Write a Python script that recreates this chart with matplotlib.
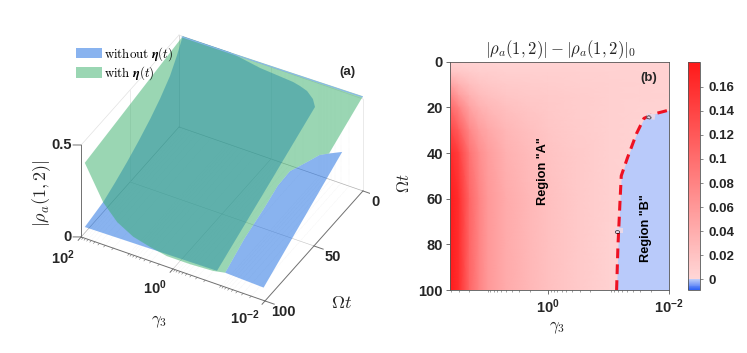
import numpy as np
import matplotlib
matplotlib.use("Agg")
import matplotlib.pyplot as plt
from matplotlib.colors import LinearSegmentedColormap, Normalize
from matplotlib.patches import Patch
from mpl_toolkits.mplot3d.art3d import Poly3DCollection

plt.rcParams["font.family"] = ["Liberation Sans", "DejaVu Sans"]
plt.rcParams["font.weight"] = "bold"
plt.rcParams["mathtext.fontset"] = "cm"

W, H = 747, 353
TEXT = "#262626"
BLUE = "#1569e1"
GREEN = "#37af69"

# panel (a), edges of the two sheets: log10(gamma), t, value
top_lg = [1.92, 0.9, -2.0]
top_t = [0, 0, 0]
top_z = [0.5, 0.503, 0.515]

# zero contour, shared with panel (b)
zero_lg = [-1.133, -1.155, -1.188, -1.21, -1.31, -1.464, -1.586, -1.751, -2.0]
zero_t = [100, 81, 62, 50, 42.3, 31.4, 24.8, 22.9, 21.2]
zero_z = [0.078, 0.155, 0.213, 0.258, 0.30, 0.30, 0.308, 0.319, 0.339]

green_end_lg = [-0.87, -0.37, 0.13, 0.5, 0.868, 1.216, 1.52, 1.92]
green_end_z = [0.065, 0.058, 0.058, 0.076, 0.10, 0.149, 0.23, 0.41]
green_far_t = [50]
green_far_z = [0.455]

blue_far_t = [100, 81, 69, 57, 45, 33, 23, 13, 6]
blue_far_z = [0.061, 0.085, 0.118, 0.156, 0.20, 0.25, 0.30, 0.362, 0.43]
blue_end_z = 0.07

# right hand limit of the overlap
overlap_lg = [0.216, -0.32, -0.544, -0.717, -0.892, -1.083, -1.213, -1.064, -0.956]
overlap_t = [1, 2, 3, 4, 5, 8, 12, 55, 100]
overlap_z = [0.482, 0.48, 0.484, 0.483, 0.477, 0.468, 0.46, 0.258, 0.073]

gamma_major = [100, 1, 0.01]
t_major = [0, 50, 100]

# panel (b)
gamma_grid = [42, 30, 20, 14, 10, 5, 2, 1, 0.3, 0.1, 0.03, 0.01]
t_grid = [0, 5, 10, 15, 20, 30, 40, 60, 80, 100]
diff_table = [
    [.004, .004, .004, .004, .004, .004, .004, .004, .004, .004, .004, .004],
    [.020, .016, .012, .010, .009, .008, .008, .008, .007, .006, .006, .006],
    [.050, .035, .024, .018, .015, .012, .011, .010, .008, .007, .006, .006],
    [.080, .055, .036, .027, .022, .017, .014, .012, .009, .007, .006, .005],
    [.105, .080, .050, .037, .030, .022, .017, .014, .010, .007, .005, .004],
    [.140, .115, .075, .055, .045, .031, .022, .017, .011, .007, .004, .003],
    [.165, .145, .095, .070, .055, .037, .026, .020, .012, .007, .004, .002],
    [.178, .160, .108, .080, .060, .042, .030, .022, .013, .007, .003, .002],
    [.178, .160, .108, .080, .060, .042, .030, .022, .013, .006, .002, .001],
    [.178, .160, .108, .080, .060, .042, .030, .022, .013, .006, .002, .001],
]
bar_ticks = [0, 0.02, 0.04, 0.06, 0.08, 0.1, 0.12, 0.14, 0.16]
bar_labels = ["0", "0.02", "0.04", "0.06", "0.08", "0.1", "0.12", "0.14", "0.16"]


def px_text(x, y, s, **kw):
    # text placed by picture pixels, y counted from the top
    kw.setdefault("ha", "center")
    kw.setdefault("va", "center")
    kw.setdefault("color", TEXT)
    fig.text(x / W, 1 - y / H, s, **kw)


def sheet(lg, t, z, color, order):
    verts = list(zip(lg, t, z))
    poly = Poly3DCollection([verts], facecolor=color, edgecolor="none", alpha=0.5)
    poly.set_zorder(order)
    ax3.add_collection3d(poly)


fig = plt.figure(figsize=(W / 100, H / 100), dpi=100)

# ---------- panel (a)
S = 305
ax3 = fig.add_axes([65.4 / W, 28.4 / H, S / W, S / H], projection="3d", computed_zorder=False)
ax3.set_proj_type("ortho")
ax3.view_init(elev=38.7, azim=-60.9)
ax3.set_box_aspect((210.6, 201.5, 117.9))
ax3.set_xlim3d(2, -2, view_margin=0)
ax3.set_ylim3d(100, 0, view_margin=0)
ax3.set_zlim3d(0, 0.5, view_margin=0)
ax3.set_axis_off()
ax3.patch.set_alpha(0)

# box and grid behind the sheets
faint = dict(color="#e2e2e2", lw=0.5, zorder=1)
ax3.plot([2, 2], [0, 0], [0, 0.5], color="#c8c8c8", lw=0.5, zorder=1)
ax3.plot([2, -2], [0, 0], [0.5, 0.5], **faint)
ax3.plot([2, 2], [100, 0], [0.5, 0.5], **faint)
ax3.plot([-2, -2], [0, 0], [0, 0.5], **faint)
ax3.plot([2, -2], [0, 0], [0, 0], color="#b0b0b0", lw=0.5, zorder=1)
ax3.plot([2, 2], [100, 0], [0, 0], color="#b0b0b0", lw=0.5, zorder=1)
ax3.plot([2, -2], [50, 50], [0, 0], color="#c4c4c4", lw=0.4, zorder=1)
ax3.plot([0, 0], [0, 100], [0, 0], color="#c4c4c4", lw=0.4, zorder=1)
ax3.plot([0, 0], [0, 0], [0, 0.5], **faint)
ax3.plot([2, 2], [50, 50], [0, 0.5], **faint)

minor_lg = [decade - 1 + np.log10(m) for decade in [2, 1, 0, -1] for m in range(2, 10)]
for lg in minor_lg:
    ax3.plot([lg, lg], [0, 100], [0, 0], color="#e6e6e6", lw=0.3, ls=":", zorder=1)
    ax3.plot([lg, lg], [0, 0], [0, 0.5], color="#e6e6e6", lw=0.3, ls=":", zorder=1)

sheet(
    top_lg + zero_lg[::-1][1:] + green_end_lg + [1.92],
    top_t + zero_t[::-1][1:] + [100] * len(green_end_lg) + green_far_t,
    top_z + zero_z[::-1][1:] + green_end_z + green_far_z,
    GREEN,
    3,
)
sheet(
    top_lg[:2] + overlap_lg + [1.92] * len(blue_far_t),
    top_t[:2] + overlap_t + blue_far_t,
    top_z[:2] + overlap_z + blue_far_z,
    BLUE,
    2,
)
sheet(
    zero_lg + [-1.97],
    zero_t + [100],
    zero_z + [blue_end_z],
    BLUE,
    2,
)
ax3.plot(top_lg, [0.6] * 3, top_z, color="#8ab4f0", lw=0.7, zorder=4)

# axes with their ticks
edge = dict(color="#707070", lw=0.7, zorder=5)
ax3.plot([2, 2], [100, 100], [0, 0.5], **edge)
ax3.plot([2, -2], [100, 100], [0, 0], **edge)
ax3.plot([-2, -2], [100, 0], [0, 0], **edge)
for z_tick in [0, 0.5]:
    ax3.plot([2, 2.133], [100, 101.9], [z_tick, z_tick], **edge)
for lg in minor_lg:
    ax3.plot([lg, lg], [100, 101.5], [0, 0], color="#707070", lw=0.4, zorder=5)
for g in gamma_major:
    lg = np.log10(g)
    ax3.plot([lg, lg], [100, 103], [0, 0], **edge)
for t_tick in t_major:
    ax3.plot([-2, -2.2], [t_tick, t_tick], [0, 0], **edge)

tick_font = dict(fontsize=10.5, fontweight="bold")
px_text(72, 145, "0.5", ha="right", **tick_font)
px_text(72, 237, "0", ha="right", **tick_font)
px_text(63, 258, r"$\mathregular{10^{2}}$", **tick_font)
px_text(155, 288, r"$\mathregular{10^{0}}$", **tick_font)
px_text(245, 318, r"$\mathregular{10^{-2}}$", **tick_font)
px_text(375, 202, "0", **tick_font)
px_text(333, 257, "50", **tick_font)
px_text(283, 312, "100", **tick_font)
px_text(342, 303, r"$\Omega t$", fontsize=13)
px_text(159, 322, r"$\gamma_{\mathrm{3}}$", fontsize=12)
px_text(42, 193, r"$|\rho_a(1,2)|$", fontsize=13, rotation=90)
px_text(347, 72, "(a)", fontsize=9.5)

legend_handles = [Patch(facecolor=BLUE, alpha=0.5, edgecolor="none"), Patch(facecolor=GREEN, alpha=0.5, edgecolor="none")]
legend_labels = [r"$\mathrm{without}\ \boldsymbol{\eta}(t)$", r"$\mathrm{with}\ \boldsymbol{\eta}(t)$"]
fig.legend(
    legend_handles,
    legend_labels,
    loc="upper left",
    bbox_to_anchor=(76 / W, 1 - 45 / H),
    frameon=False,
    fontsize=9.3,
    handlelength=2.0,
    handleheight=0.9,
    handletextpad=0.2,
    labelspacing=0.12,
    borderpad=0,
    borderaxespad=0,
)

# ---------- panel (b)
left, right, top, bottom = 450, 669, 61.7, 290
ax = fig.add_axes([left / W, 1 - bottom / H, (right - left) / W, (bottom - top) / H])
vmin, vmax = -0.0088, 0.1807
zero_pos = -vmin / (vmax - vmin)
cmap = LinearSegmentedColormap.from_list(
    "diff",
    [
        (0, (50 / 255, 100 / 255, 245 / 255)),
        (zero_pos, (195 / 255, 210 / 255, 250 / 255)),
        (zero_pos, (255 / 255, 215 / 255, 215 / 255)),
        (1, (255 / 255, 25 / 255, 25 / 255)),
    ],
)
norm = Normalize(vmin, vmax)
mesh = ax.pcolormesh(gamma_grid, t_grid, diff_table, cmap=cmap, norm=norm, shading="gouraud")
ax.set_xscale("log")
ax.set_xlim(42, 0.01)
ax.set_ylim(100, 0)

zero_gamma = [10.0**v for v in zero_lg]
ax.fill_betweenx(zero_t, zero_gamma, 0.01, color=cmap(norm(-0.0001)), lw=0)
ax.plot(zero_gamma, zero_t, color="#ee1122", lw=2.2, ls=(0, (3.2, 2)))
ax.text(10.0**-1.17, 74, "0", fontsize=5, fontweight="normal", rotation=90, ha="center", va="center",
        bbox=dict(facecolor="#e8d8e8", edgecolor="none", pad=0.5))
ax.text(10.0**-1.7, 24, "0", fontsize=5, fontweight="normal", rotation=80, ha="center", va="center",
        bbox=dict(facecolor="#e8d8e8", edgecolor="none", pad=0.5))
ax.text(10.0**0.09, 48, 'Region "A"', rotation=90, fontsize=9.2, ha="center", va="center", color="black")
ax.text(10.0**-1.62, 73, 'Region "B"', rotation=90, fontsize=9.2, ha="center", va="center", color="black")
ax.text(10.0**-1.66, 7, "(b)", fontsize=9.5, ha="center", va="center", color=TEXT)

ax.set_xticks([1, 0.01])
ax.set_xticklabels([r"$\mathregular{10^{0}}$", r"$\mathregular{10^{-2}}$"], fontsize=10.5, color=TEXT)
minor = [m * 10.0**d for d in [-2, -1, 0] for m in range(2, 10)] + [10, 20, 30, 40]
ax.set_xticks(minor, minor=True)
ax.set_xticklabels([], minor=True)
ax.set_yticks([0, 20, 40, 60, 80, 100])
ax.set_yticklabels(["0", "20", "40", "60", "80", "100"], fontsize=10.5, color=TEXT)
ax.tick_params(axis="both", which="major", direction="out", length=3, width=0.6, color="#555555", pad=2)
ax.tick_params(axis="x", which="minor", direction="out", length=1.5, width=0.4, color="#555555")
for spine in ax.spines.values():
    spine.set_linewidth(0.6)
    spine.set_color("#555555")
px_text(561, 50, r"$|\rho_a(1,2)|-|\rho_a(1,2)|_0$", fontsize=12)
px_text(557, 328, r"$\gamma_{\mathrm{3}}$", fontsize=12)
px_text(404, 183, r"$\Omega t$", fontsize=12, rotation=90)

cax = fig.add_axes([688 / W, 1 - bottom / H, 12 / W, (bottom - top) / H])
bar = fig.colorbar(mesh, cax=cax)
bar.set_ticks(bar_ticks)
bar.set_ticklabels(bar_labels)
bar.ax.tick_params(labelsize=9.5, labelcolor=TEXT, length=2, width=0.5, color="#555555", pad=4)
bar.outline.set_linewidth(0.6)
bar.outline.set_edgecolor("#555555")

fig.savefig("out.png", dpi=100)
